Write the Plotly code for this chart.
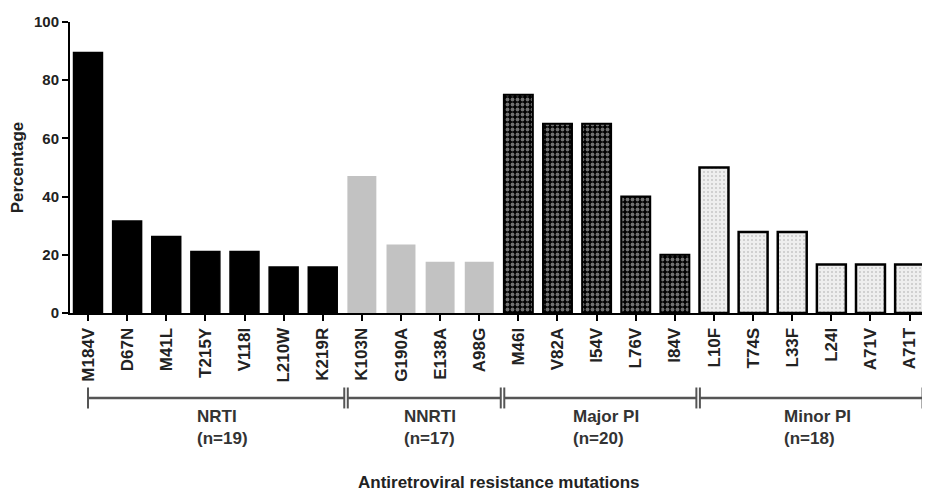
import plotly.graph_objects as go

mutations = ["M184V", "D67N", "M41L", "T215Y", "V118I", "L210W", "K219R",
             "K103N", "G190A", "E138A", "A98G",
             "M46I", "V82A", "I54V", "L76V", "I84V",
             "L10F", "T74S", "L33F", "L24I", "A71V", "A71T"]
nrti_vals = [89.5, 31.6, 26.3, 21.1, 21.1, 15.8, 15.8]
nnrti_vals = [47.1, 23.5, 17.6, 17.6]
major_vals = [75.0, 65.0, 65.0, 40.0, 20.0]
minor_vals = [50.0, 27.8, 27.8, 16.7, 16.7, 16.7]
groups = ["NRTI<br>(n=19)", "NNRTI<br>(n=17)", "Major PI<br>(n=20)", "Minor PI<br>(n=18)"]
group_sizes = [len(nrti_vals), len(nnrti_vals), len(major_vals), len(minor_vals)]
y_ticks = [0, 20, 40, 60, 80, 100]

FONT = "Liberation Sans"
TXT = "#222222"
fig = go.Figure()

series = [nrti_vals, nnrti_vals, major_vals, minor_vals]
styles = [
    dict(color="black", line=dict(color="black", width=1.5)),
    dict(color="#c2c2c2", line=dict(color="#c2c2c2", width=0)),
    dict(color="black", line=dict(color="black", width=2),
         pattern=dict(shape=".", bgcolor="black", fgcolor="#e0e0e0", size=5, solidity=0.45)),
    dict(color="#e6e6e6", line=dict(color="black", width=2.5),
         pattern=dict(shape=".", bgcolor="#eeeeee", fgcolor="#a0a0a0", size=4, solidity=0.2)),
]
start = 0
for vals, st in zip(series, styles):
    xs = mutations[start:start + len(vals)]
    fig.add_trace(go.Bar(x=xs, y=vals, marker=st, width=0.74, showlegend=False))
    start += len(vals)

# group brackets
bracket_y = -0.292
tick_h = 0.036
label_y = -0.316
line_col = "#555555"
bounds = []
s = 0
for i, n in enumerate(group_sizes):
    left = s if i == 0 else s - 0.36
    right = s + n - 1 + (0.33 if i == len(group_sizes) - 1 else 0.55)
    bounds.append((left, right))
    s += n
for i, (l, r) in enumerate(bounds):
    fig.add_shape(type="line", xref="x", yref="paper", x0=l, x1=r, y0=bracket_y, y1=bracket_y,
                  line=dict(color=line_col, width=2.5))
    for xx in (l, r):
        fig.add_shape(type="line", xref="x", yref="paper", x0=xx, x1=xx,
                      y0=bracket_y - tick_h, y1=bracket_y + tick_h, line=dict(color=line_col, width=2))
    fig.add_annotation(x=(l + r) / 2 + 0.15, y=label_y, xref="x", yref="paper", text=groups[i],
                       showarrow=False, yanchor="top", xanchor="center", align="left",
                       font=dict(family=FONT, size=17, color="#333333", weight="bold"))

fig.add_annotation(x=0.5, y=-0.581, xref="paper", yref="paper", text="Antiretroviral resistance mutations",
                   showarrow=False, yanchor="middle",
                   font=dict(family=FONT, size=17, color=TXT, weight="bold"))

fig.update_layout(
    width=922, height=493,
    margin=dict(l=62, r=2, t=14, b=188),
    plot_bgcolor="white", paper_bgcolor="white",
    xaxis=dict(type="category", categoryorder="array", categoryarray=mutations,
               range=[-0.46, 21.47], showline=True, linecolor="black", linewidth=2,
               ticks="outside", ticklen=6, tickwidth=1.5, tickcolor="black",
               tickangle=-90, tickfont=dict(family=FONT, size=17, color=TXT, weight="bold"),
               showgrid=False, zeroline=False),
    yaxis=dict(range=[0, 100], tickvals=y_ticks, showline=True, linecolor="black", linewidth=2,
               ticks="outside", ticklen=6, tickwidth=2, tickcolor="black",
               tickfont=dict(family=FONT, size=15, color=TXT, weight="bold"),
               showgrid=False, zeroline=False,
               title=dict(text="Percentage", standoff=10,
                          font=dict(family=FONT, size=17, color=TXT, weight="bold"))),
)

fig.write_html("out.html")
